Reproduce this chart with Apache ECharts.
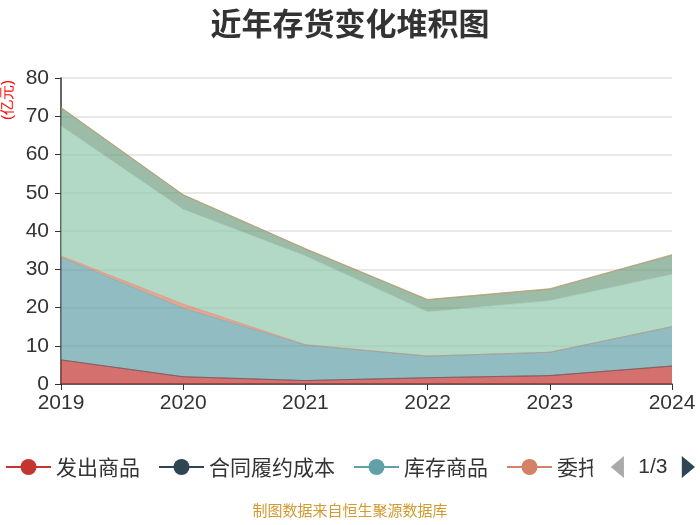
<!DOCTYPE html>
<html>
<head>
<meta charset="utf-8">
<script src="https://cdn.jsdelivr.net/npm/echarts@6/dist/echarts.min.js"></script>
<style>html,body{margin:0;padding:0;background:#fff}#c{width:700px;height:525px}</style>
</head>
<body>
<div id="c"></div>
<script>
const years = ['2019','2020','2021','2022','2023','2024'];
const seriesNames = ['发出商品','合同履约成本','库存商品','委托加工物资','原材料','在产品','周转材料','自制半成品'];
const fachu = [6.3, 1.9, 0.9, 1.65, 2.2, 4.7];
const hetong = [0, 0, 0, 0, 0, 0];
const kucun = [26.8, 17.9, 9.3, 5.65, 6.1, 10.3];
const weituo = [0.4, 1.1, 0.1, 0, 0, 0];
const yuancailiao = [34.0, 24.8, 23.2, 11.6, 13.5, 13.7];
const zaichanpin = [4.7, 3.7, 1.8, 3.1, 3.0, 5.0];
const zhouzhuan = [0.1, 0.1, 0.1, 0.1, 0.1, 0.1];
const zizhi = [0, 0, 0, 0, 0, 0];
const seriesValues = [fachu, hetong, kucun, weituo, yuancailiao, zaichanpin, zhouzhuan, zizhi];
const yTicks = [0, 10, 20, 30, 40, 50, 60, 70, 80];

const colors = ['#c23531','#2f4554','#61a0a8','#d48265','#91c7ae','#749f83','#ca8622','#bda29a'];
const chart = echarts.init(document.getElementById('c'));
chart.setOption({
  color: colors,
  animation: false,
  title: [{
    text: '近年存货变化堆积图',
    left: 'center', top: 3,
    textStyle: {fontSize: 31, fontWeight: 'bold', color: '#333', fontFamily: 'Noto Sans CJK SC'}
  }, {
    text: '制图数据来自恒生聚源数据库',
    left: 'center', bottom: 2,
    textStyle: {fontSize: 15, fontWeight: 'normal', color: '#d39a2e', fontFamily: 'Noto Sans CJK SC'}
  }],
  legend: {
    type: 'scroll',
    left: 0, right: 0, bottom: 42,
    itemWidth: 45, itemHeight: 20, itemGap: 18,
    textStyle: {fontSize: 21, color: '#333', fontFamily: 'Noto Sans CJK SC'},
    pageTextStyle: {fontSize: 21, color: '#333'},
    pageIconSize: [16, 22],
    pageIconColor: '#2f4554',
    pageIconInactiveColor: '#aaa',
    data: seriesNames.map((n, i) => ({
      name: n,
      itemStyle: {color: colors[i], opacity: 1},
      lineStyle: {color: colors[i], width: 2, opacity: 1}
    }))
  },
  grid: {left: 60, right: 28, top: 78, bottom: 141},
  xAxis: {
    type: 'category', data: years, boundaryGap: false,
    axisLine: {lineStyle: {color: '#333', width: 1.5}},
    axisTick: {length: 6, lineStyle: {color: '#333'}},
    axisLabel: {fontSize: 21, color: '#333', margin: 9}
  },
  yAxis: {
    type: 'value', min: yTicks[0], max: yTicks[yTicks.length-1], interval: 10,
    name: '(亿元)', nameLocation: 'end', nameRotate: 90, nameGap: -2,
    nameTextStyle: {color: '#ff0000', fontSize: 15, align: 'right', verticalAlign: 'bottom', padding: [0,0,46,0]},
    axisLine: {show: true, lineStyle: {color: '#333', width: 1.5}},
    axisTick: {show: true, length: 6, lineStyle: {color: '#333'}},
    axisLabel: {fontSize: 21, color: '#333', margin: 12},
    splitLine: {lineStyle: {color: '#e0e0e0', width: 1.5}}
  },
  series: seriesNames.map((n, i) => ({
    name: n, type: 'line', stack: 'total', data: seriesValues[i],
    symbol: 'circle', symbolSize: 8, showSymbol: false,
    lineStyle: {width: 0.8, opacity: 0.6},
    areaStyle: {opacity: 0.7}
  }))
});
</script>
</body>
</html>
